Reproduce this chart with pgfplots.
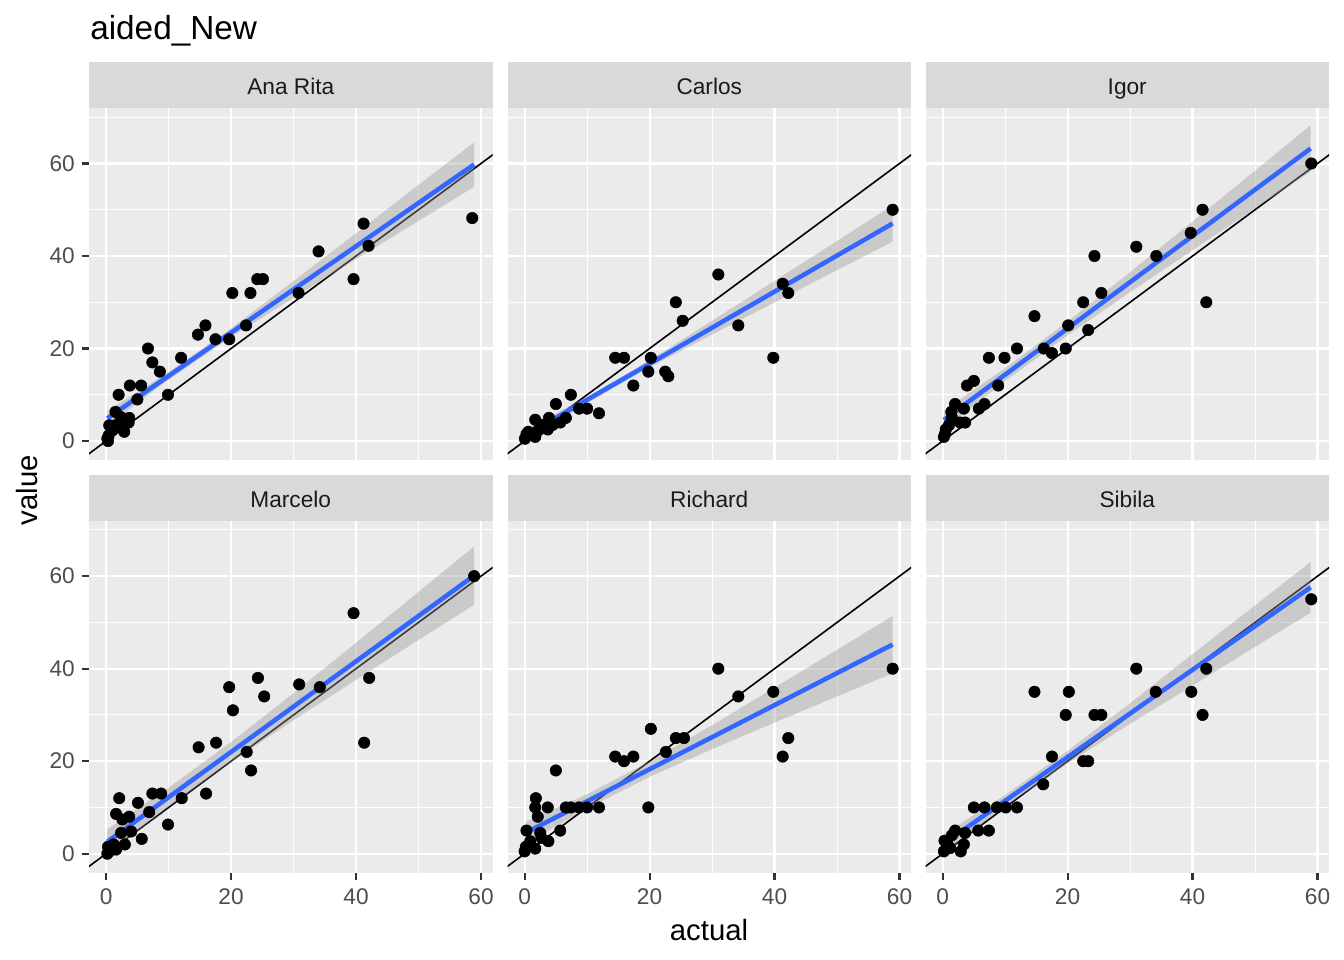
\documentclass[border=0pt]{standalone}
\usepackage{fontspec}
\setmainfont{Liberation Sans}
\usepackage{pgfplots}
\pgfplotsset{compat=1.18}

\definecolor{panelbg}{HTML}{EBEBEB}
\definecolor{stripbg}{HTML}{D9D9D9}
\definecolor{ticktext}{HTML}{4D4D4D}
\definecolor{tickline}{HTML}{333333}
\definecolor{striptext}{HTML}{1A1A1A}
\definecolor{fitblue}{HTML}{3366FF}
\definecolor{band}{HTML}{999999}

\pgfplotsset{
  facet/.style={
    scale only axis, width=302.625bp, height=264bp, anchor=south west,
    xmin=-2.74, xmax=61.84, ymin=-4.1, ymax=72,
    axis background/.style={fill=panelbg},
    axis line style={draw=none},
    xtick={0,20,40,60}, ytick={0,20,40,60},
    minor xtick={10,30,50}, minor ytick={10,30,50,70},
    xmajorgrids, ymajorgrids, xminorgrids, yminorgrids,
    major grid style={white, line width=1.6bp},
    minor grid style={white, line width=0.8bp},
    tick align=outside, major tick length=5.5bp, minor tick length=0pt,
    tick style={tickline, line width=1.6bp},
    xtick pos=left, ytick pos=left,
    xmajorticks=false, ymajorticks=false,
    xticklabels={,,,}, yticklabels={,,,},
    ticklabel style={font=\fontsize{17bp}{20bp}\selectfont, text=ticktext, inner sep=0pt},
  },
  leftcol/.style={
    ymajorticks=true, yticklabels={0,20,40,60},
    yticklabel style={xshift=-5bp},
  },
  bottomrow/.style={
    xmajorticks=true, xticklabels={0,20,40,60},
    xticklabel style={yshift=-6bp},
  },
  pts/.style={only marks, mark=*, mark size=4.3bp, black},
  diag/.style={black, line width=1.2bp},
  ci/.style={draw=none, fill=band, fill opacity=0.4},
  fit/.style={fitblue, line width=3.4bp},
}

\newcommand{\strip}[2]{%
  \fill[stripbg] (#1.north west) rectangle ([yshift=34.5bp]#1.north east);
  \node[anchor=base, inner sep=0pt, font=\fontsize{17bp}{20bp}\selectfont, text=striptext] at ([yshift=10bp]#1.north) {#2};
}

\begin{document}
\begin{tikzpicture}
\useasboundingbox (0,0) rectangle (1008bp,720bp);

% ---------------- Ana Rita
\begin{axis}[facet, leftcol, name=p1, at={(66.75bp,375bp)}]
\addplot[pts] coordinates {
 (58.6,48.2) (41.2,47) (42.0,42.2) (39.6,35) (34.0,41) (30.8,32) (24.2,35) (25.1,35)
 (20.2,32) (23.1,32) (22.4,25) (19.7,22) (17.5,22) (15.9,25) (14.7,23) (12.0,18)
 (9.9,10) (8.6,15) (7.4,17) (6.7,20) (5.6,12) (5.0,9) (3.8,12) (2.0,10) (3.7,5)
 (2.9,2) (1.5,6.3) (2.3,5.2) (1.5,3.4) (0.5,3.4) (0.2,0.5) (0.4,1.2) (1.0,2.3)
 (2.0,3.4) (0.3,0) (3.6,4)
};
\addplot[diag] coordinates {(-10,-10) (80,80)};
\addplot[ci] coordinates {
 (0.2,6.51) (10,14.87) (20,24.37) (30,34.57) (40,44.92) (50,55.37) (58.9,64.59)
 (58.9,54.99) (50,47.57) (40,39.32) (30,30.97) (20,22.47) (10,13.27) (0.2,3.31)
};
\addplot[fit] coordinates {(0.2,4.91) (58.9,59.79)};
\end{axis}
\strip{p1}{Ana Rita}

% ---------------- Carlos
\begin{axis}[facet, name=p2, at={(380.625bp,375bp)}]
\addplot[pts] coordinates {
 (58.9,50) (41.3,34) (42.2,32) (39.8,18) (34.2,25) (31.0,36) (24.2,30) (25.3,26)
 (20.2,18) (19.8,15) (22.5,15) (23.0,14) (17.4,12) (14.5,18) (15.9,18) (11.9,6)
 (10.0,7) (8.7,7) (7.4,10) (5.0,8) (6.6,5) (5.7,4) (3.9,5) (1.7,4.6) (3.7,2.5)
 (1.7,0.9) (0.6,2) (0.05,0.5) (2.2,2.3) (0.3,1.5) (1.2,1.5) (2.8,3.5) (4.5,3.5)
};
\addplot[diag] coordinates {(-10,-10) (80,80)};
\addplot[ci] coordinates {
 (0.2,2.58) (10,9.55) (20,17.45) (30,25.99) (40,34.62) (50,43.25) (58.9,50.97)
 (58.9,43.11) (50,36.95) (40,29.98) (30,23.01) (20,15.95) (10,8.25) (0.2,-0.06)
};
\addplot[fit] coordinates {(0.2,1.26) (58.9,47.04)};
\end{axis}
\strip{p2}{Carlos}

% ---------------- Igor
\begin{axis}[facet, name=p3, at={(694.125bp,375bp)}]
\addplot[pts] coordinates {
 (59.0,60) (41.6,50) (42.2,30) (39.7,45) (34.2,40) (31.0,42) (24.3,40) (25.4,32)
 (22.5,30) (23.3,24) (20.1,25) (19.7,20) (17.5,19) (16.2,20) (14.7,27) (11.9,20)
 (9.9,18) (7.4,18) (8.9,12) (5.0,13) (3.9,12) (6.7,8) (5.8,7) (3.6,4) (2.8,4)
 (2.0,8) (3.4,7) (1.4,6.3) (1.0,3.4) (0.4,1.6) (0.2,0.9) (0.5,2.5) (1.5,5)
};
\addplot[diag] coordinates {(-10,-10) (80,80)};
\addplot[ci] coordinates {
 (0.2,6.55) (10,15.75) (20,25.83) (30,36.52) (40,47.44) (50,58.44) (58.9,68.25)
 (58.9,58.25) (50,50.26) (40,41.26) (30,32.18) (20,22.87) (10,12.95) (0.2,2.55)
};
\addplot[fit] coordinates {(0.2,4.55) (58.9,63.25)};
\end{axis}
\strip{p3}{Igor}

% ---------------- Marcelo
\begin{axis}[facet, leftcol, bottomrow, name=p4, at={(66.75bp,65.5bp)}]
\addplot[pts] coordinates {
 (58.9,60) (39.6,52) (42.1,38) (41.3,24) (34.2,36) (30.9,36.6) (24.3,38) (25.3,34)
 (19.7,36) (20.3,31) (22.5,22) (23.2,18) (17.6,24) (14.8,23) (16.0,13) (12.1,12)
 (9.9,6.3) (8.8,13) (7.4,13) (6.9,9) (5.1,11) (5.7,3.2) (2.1,12) (1.6,8.6) (3.7,8)
 (2.6,7.4) (4.0,4.8) (3.0,2) (1.6,0.9) (0.5,0.5) (2.4,4.5) (0.3,1.5) (1.2,2) (0.2,0)
};
\addplot[diag] coordinates {(-10,-10) (80,80)};
\addplot[ci] coordinates {
 (0.2,5.3) (10,14.27) (20,24.16) (30,34.72) (40,45.6) (50,56.59) (58.9,66.42)
 (58.9,53.82) (50,46.21) (40,37.6) (30,28.88) (20,19.84) (10,10.13) (0.2,-0.1)
};
\addplot[fit] coordinates {(0.2,2.6) (58.9,60.12)};
\end{axis}
\strip{p4}{Marcelo}

% ---------------- Richard
\begin{axis}[facet, bottomrow, name=p5, at={(380.625bp,65.5bp)}]
\addplot[pts] coordinates {
 (58.9,40) (39.8,35) (42.2,25) (41.3,21) (34.2,34) (31.0,40) (25.5,25) (24.2,25)
 (22.6,22) (20.2,27) (19.8,10) (17.4,21) (15.9,20) (14.5,21) (11.9,10) (10.0,10)
 (8.7,10) (7.4,10) (6.6,10) (5.0,18) (5.7,5) (3.7,10) (1.8,12) (1.7,10) (2.1,8)
 (3.8,2.7) (2.7,3.4) (1.7,1.1) (0.3,5) (0.0,0.5) (0.9,2.7) (2.5,4.5) (0.2,1.5)
};
\addplot[diag] coordinates {(-10,-10) (80,80)};
\addplot[ci] coordinates {
 (0.2,6.89) (10,12.86) (20,19.91) (30,27.77) (40,35.9) (50,44.09) (58.9,51.42)
 (58.9,39.02) (50,34.01) (40,28.34) (30,22.61) (20,16.61) (10,9.80) (0.2,2.19)
};
\addplot[fit] coordinates {(0.2,4.54) (58.9,45.22)};
\end{axis}
\strip{p5}{Richard}

% ---------------- Sibila
\begin{axis}[facet, bottomrow, name=p6, at={(694.125bp,65.5bp)}]
\addplot[pts] coordinates {
 (59.0,55) (42.2,40) (39.8,35) (41.6,30) (34.1,35) (31.0,40) (24.3,30) (25.4,30)
 (20.2,35) (19.7,30) (14.7,35) (22.5,20) (23.3,20) (17.5,21) (16.1,15) (11.9,10)
 (10.1,10) (8.7,10) (6.7,10) (5.0,10) (7.4,5) (5.7,5) (2.0,5) (3.4,2) (2.9,0.5)
 (0.3,2.8) (0.2,0.5) (1.2,1.2) (3.6,4.5) (1.5,4) (0.8,2)
};
\addplot[diag] coordinates {(-10,-10) (80,80)};
\addplot[ci] coordinates {
 (0.2,4.19) (10,12.68) (20,22.24) (30,32.55) (40,43.17) (50,53.66) (58.9,63.1)
 (58.9,52.1) (50,44.74) (40,36.35) (30,28.09) (20,19.52) (10,10.2) (0.2,0.19)
};
\addplot[fit] coordinates {(0.2,2.19) (58.9,57.6)};
\end{axis}
\strip{p6}{Sibila}

% titles
\node[anchor=base west, inner sep=0pt, font=\fontsize{25bp}{30bp}\selectfont] at (67.5bp,690bp) {aided\_New};
\node[anchor=base, font=\fontsize{22bp}{26bp}\selectfont] at (531.75bp,15bp) {actual};
\node[anchor=base, rotate=90, font=\fontsize{22bp}{26bp}\selectfont] at (28bp,352.5bp) {value};
\end{tikzpicture}
\end{document}
